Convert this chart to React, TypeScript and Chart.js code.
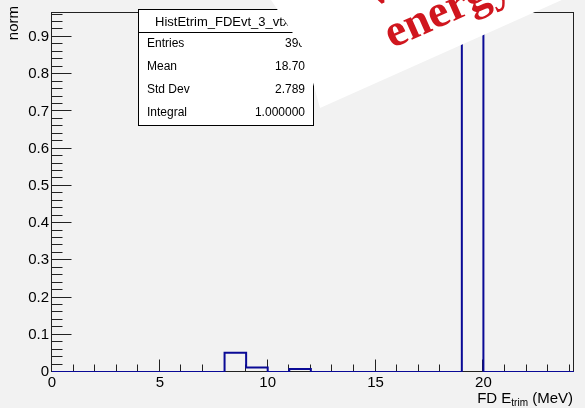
import React, { useEffect, useRef } from 'react';
import { Chart, registerables } from 'chart.js';

Chart.register(...registerables);

// ---- data ----
const binLowEdges = [0, 1, 2, 3, 4, 5, 6, 7, 8, 9, 10, 11, 12, 13, 14, 15, 16, 17, 18, 19, 20, 21, 22, 23, 24];
const binUpperEdge = 25;
const normValues = [0, 0, 0, 0, 0, 0, 0, 0, 0.052, 0.012, 0, 0.008, 0, 0, 0, 0, 0, 0, 0, 0.928, 0, 0, 0, 0, 0];
const xTickValues = [0, 5, 10, 15, 20];
const yTickValues = [0, 0.1, 0.2, 0.3, 0.4, 0.5, 0.6, 0.7, 0.8, 0.9];
const yTickLabels = ['0', '0.1', '0.2', '0.3', '0.4', '0.5', '0.6', '0.7', '0.8', '0.9'];
const xRange = [0, 24.2];
const yRange = [0, 0.967];
const statsTitle = 'HistEtrim_FDEvt_3_vtx';
const statsLabels = ['Entries', 'Mean', 'Std Dev', 'Integral'];
const statsValues = ['396', '18.70', '2.789', '1.000000'];
const bannerLines = ['Visible', 'energy'];
const yTitle = 'norm';
const xTitleMain = 'FD E';
const xTitleSub = 'trim';
const xTitleUnit = ' (MeV)';

const SANS = "'Liberation Sans', Arial, sans-serif";
const SERIF = "'Liberation Serif', 'Times New Roman', serif";

const rootStyle = {
  id: 'rootStyle',
  beforeDraw(chart: any) {
    const { ctx, width, height } = chart;
    ctx.save();
    ctx.fillStyle = '#f2f2f2';
    ctx.fillRect(0, 0, width, height);
    ctx.restore();
  },
  beforeDatasetsDraw(chart: any) {
    const { ctx, chartArea: a, scales } = chart;
    const xs = scales.x;
    const ys = scales.y;
    ctx.save();
    ctx.strokeStyle = '#222222';
    ctx.lineWidth = 1;
    const L = a.left - 0.5;
    const B = a.bottom - 0.5;
    ctx.strokeRect(L, a.top + 0.5, a.right - a.left, a.bottom - a.top - 1);
    ctx.beginPath();
    for (let v = Math.ceil(xs.min); v <= xs.max; v += 1) {
      const px = Math.round(xs.getPixelForValue(v)) - 0.5;
      const len = v % 5 === 0 ? 12 : 7;
      ctx.moveTo(px, B);
      ctx.lineTo(px, B - len);
    }
    for (let k = 0; k * 0.02 <= ys.max + 1e-9; k++) {
      const py = Math.round(ys.getPixelForValue(k * 0.02)) - 0.5;
      const len = k % 5 === 0 ? 20 : 11;
      ctx.moveTo(L, py);
      ctx.lineTo(L + len, py);
    }
    ctx.stroke();
    ctx.restore();
  },
  afterDatasetsDraw(chart: any) {
    const { ctx } = chart;
    ctx.save();
    // stats box
    const bx = 138.5, by = 9.5, bw = 175, bh = 116;
    ctx.fillStyle = '#ffffff';
    ctx.fillRect(bx, by, bw, bh);
    ctx.strokeStyle = '#000000';
    ctx.lineWidth = 1;
    ctx.strokeRect(bx, by, bw, bh);
    ctx.beginPath();
    ctx.moveTo(bx, 32.5);
    ctx.lineTo(bx + bw, 32.5);
    ctx.stroke();
    ctx.fillStyle = '#000000';
    ctx.textBaseline = 'middle';
    ctx.font = `13px ${SANS}`;
    ctx.textAlign = 'left';
    ctx.fillText(statsTitle, 155, 22);
    ctx.font = `12px ${SANS}`;
    const rowY = [44, 67, 90, 113];
    statsLabels.forEach((lab, i) => {
      ctx.textAlign = 'left';
      ctx.fillText(lab, 147, rowY[i]);
      ctx.textAlign = 'right';
      ctx.fillText(statsValues[i], 305, rowY[i]);
    });

    // white banner
    ctx.beginPath();
    ctx.moveTo(271, -20);
    ctx.lineTo(271, 0);
    ctx.lineTo(277, 9);
    ctx.lineTo(304, 50);
    ctx.lineTo(320, 108);
    ctx.lineTo(620, -26);
    ctx.closePath();
    ctx.fillStyle = '#ffffff';
    ctx.fill();
    ctx.clip();
    // red text
    ctx.translate(320, 108);
    ctx.rotate((-24 * Math.PI) / 180);
    ctx.fillStyle = '#d0161e';
    ctx.font = `bold 46px ${SERIF}`;
    ctx.textAlign = 'center';
    ctx.textBaseline = 'alphabetic';
    const cu = 90 + ctx.measureText(bannerLines[1]).width / 2;
    ctx.fillText(bannerLines[1], cu, -25);
    ctx.fillText(bannerLines[0], cu - 6, -71);
    ctx.restore();

    // axis titles
    ctx.save();
    ctx.fillStyle = '#000000';
    ctx.font = `15px ${SANS}`;
    ctx.translate(14, 6);
    ctx.rotate(-Math.PI / 2);
    ctx.textAlign = 'right';
    ctx.textBaseline = 'middle';
    ctx.fillText(yTitle, 0, 0);
    ctx.restore();

    ctx.save();
    ctx.fillStyle = '#000000';
    ctx.textBaseline = 'alphabetic';
    ctx.textAlign = 'left';
    ctx.font = `15px ${SANS}`;
    const wMain = ctx.measureText(xTitleMain).width;
    const wUnit = ctx.measureText(xTitleUnit).width;
    ctx.font = `10px ${SANS}`;
    const wSub = ctx.measureText(xTitleSub).width;
    const right = 573;
    const base = 403;
    let xx = right - wMain - wSub - wUnit;
    ctx.font = `15px ${SANS}`;
    ctx.fillText(xTitleMain, xx, base);
    xx += wMain;
    ctx.font = `10px ${SANS}`;
    ctx.fillText(xTitleSub, xx, base + 3);
    xx += wSub;
    ctx.font = `15px ${SANS}`;
    ctx.fillText(xTitleUnit, xx, base);
    ctx.restore();
  },
};

export default function App() {
  const ref = useRef<HTMLCanvasElement | null>(null);
  useEffect(() => {
    if (!ref.current) return;
    const points = binLowEdges.map((x, i) => ({ x, y: normValues[i] }));
    points.push({ x: binUpperEdge, y: 0 });
    const chart = new Chart(ref.current, {
      type: 'line',
      data: {
        datasets: [
          {
            data: points,
            stepped: 'before',
            borderColor: '#0a0a96',
            borderWidth: 2,
            pointRadius: 0,
            fill: false,
            borderJoinStyle: 'miter',
          } as any,
        ],
      },
      options: {
        responsive: false,
        maintainAspectRatio: false,
        animation: false,
        layout: { padding: { left: 0, right: 11, top: 9, bottom: 0 } },
        plugins: { legend: { display: false }, tooltip: { enabled: false }, title: { display: false } },
        scales: {
          x: {
            type: 'linear',
            min: xRange[0],
            max: xRange[1],
            grid: { display: false, drawTicks: false },
            border: { display: false },
            afterFit: (s: any) => { s.height = 36; },
            afterBuildTicks: (s: any) => { s.ticks = xTickValues.map((v) => ({ value: v })); },
            ticks: {
              autoSkip: false,
              maxRotation: 0,
              padding: 2,
              color: '#000000',
              font: { family: SANS, size: 15 },
              callback: (v: any) => String(v),
            },
          },
          y: {
            type: 'linear',
            min: yRange[0],
            max: yRange[1],
            grid: { display: false, drawTicks: false },
            border: { display: false },
            afterFit: (s: any) => { s.width = 52; },
            afterBuildTicks: (s: any) => { s.ticks = yTickValues.map((v) => ({ value: v })); },
            ticks: {
              autoSkip: false,
              padding: 3,
              color: '#000000',
              font: { family: SANS, size: 15 },
              callback: (v: any) => {
                const i = yTickValues.findIndex((t) => Math.abs(t - v) < 1e-9);
                return i >= 0 ? yTickLabels[i] : '';
              },
            },
          },
        },
      },
      plugins: [rootStyle],
    });
    return () => chart.destroy();
  }, []);
  return (
    <div style={{ position: 'fixed', left: 0, top: 0, width: 585, height: 408 }}>
      <canvas ref={ref} width={585} height={408} style={{ display: 'block' }} />
    </div>
  );
}
